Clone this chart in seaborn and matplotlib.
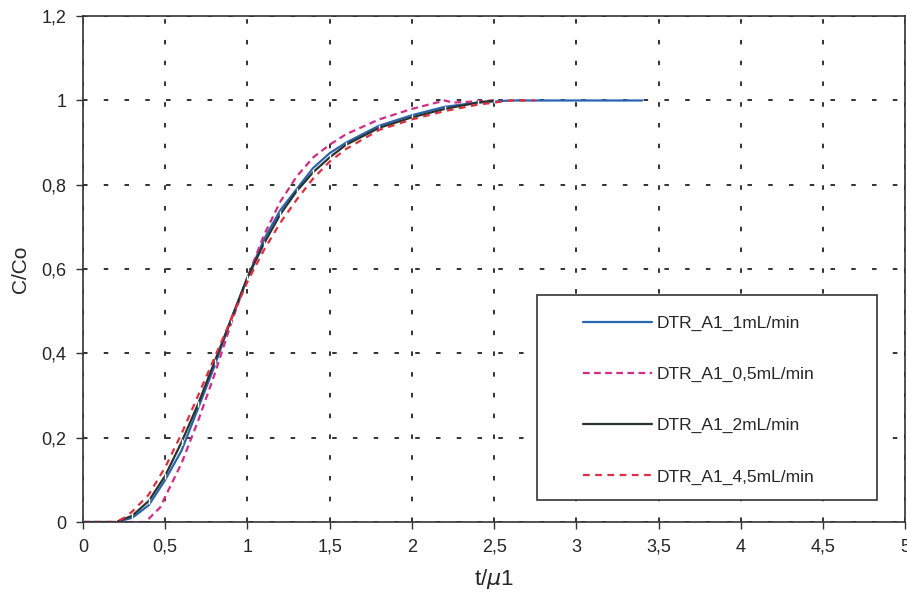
import numpy as np
import pandas as pd
import seaborn as sns
import matplotlib
matplotlib.use('Agg')
from matplotlib import pyplot as plt
from matplotlib.patches import Rectangle
from matplotlib.ticker import FuncFormatter, MultipleLocator

# valeurs (t/mu1, C/Co)
t_1ml = [0, 0.2, 0.3, 0.4, 0.5, 0.6, 0.7, 0.8, 0.9, 1.0, 1.1, 1.2, 1.3, 1.4, 1.5,
         1.6, 1.8, 2.0, 2.2, 2.4, 2.6, 3.0, 3.4]
c_1ml = [0, 0, 0.01, 0.04, 0.1, 0.17, 0.27, 0.37, 0.48, 0.58, 0.67, 0.74, 0.79, 0.84, 0.875,
         0.90, 0.94, 0.965, 0.985, 0.995, 1.0, 1.0, 1.0]

t_05ml = [0, 0.35, 0.38, 0.47, 0.5, 0.6, 0.7, 0.8, 0.9, 1.0, 1.1, 1.2, 1.3, 1.4, 1.5,
          1.6, 1.8, 2.0, 2.1, 2.2, 2.25, 2.5]
c_05ml = [0, 0, 0.0, 0.035, 0.06, 0.14, 0.24, 0.35, 0.47, 0.58, 0.68, 0.76, 0.82, 0.865, 0.895,
          0.92, 0.955, 0.98, 0.99, 1.0, 0.995, 1.0]

t_2ml = [0, 0.2, 0.3, 0.4, 0.5, 0.6, 0.7, 0.8, 0.9, 1.0, 1.1, 1.2, 1.3, 1.4, 1.5,
         1.6, 1.8, 2.0, 2.2, 2.4, 2.5]
c_2ml = [0, 0.0, 0.015, 0.05, 0.11, 0.19, 0.28, 0.38, 0.48, 0.58, 0.66, 0.73, 0.785, 0.83, 0.865,
         0.895, 0.935, 0.96, 0.98, 0.995, 1.0]

t_45ml = [0, 0.2, 0.25, 0.3, 0.4, 0.5, 0.6, 0.7, 0.8, 0.9, 1.0, 1.1, 1.2, 1.3, 1.4,
          1.5, 1.6, 1.8, 2.0, 2.2, 2.4, 2.6, 2.75]
c_45ml = [0, 0.0, 0.01, 0.025, 0.065, 0.13, 0.21, 0.3, 0.39, 0.48, 0.57, 0.645, 0.71, 0.765, 0.815,
          0.855, 0.885, 0.93, 0.955, 0.975, 0.99, 1.0, 1.0]

labels = ['DTR_A1_1mL/min', 'DTR_A1_0,5mL/min', 'DTR_A1_2mL/min', 'DTR_A1_4,5mL/min']

sns.set_style('white')
plt.rcParams['font.family'] = ['Liberation Sans', 'DejaVu Sans']

fig = plt.figure(figsize=(9.07, 5.99), dpi=100)
ax = fig.add_axes([0.0915, 0.1285, 0.9065, 0.8445])

series = [
    (t_1ml, c_1ml, '#2a63b0', '-', None),
    (t_05ml, c_05ml, '#d02c86', (0, (3, 2)), None),
    (t_2ml, c_2ml, '#27352e', '-', '|'),
    (t_45ml, c_45ml, '#dc2e3e', (0, (3, 2.5)), None),
]
for (x, y, col, ls, mk), lab in zip(series, labels):
    sns.lineplot(x=x, y=y, ax=ax, color=col, linestyle=ls, linewidth=1.6,
                 marker=mk, markersize=4, markeredgewidth=1, label=lab,
                 sort=False, estimator=None)

ax.set_xlim(0, 5)
ax.set_ylim(0, 1.2)
ax.xaxis.set_major_locator(MultipleLocator(0.5))
ax.yaxis.set_major_locator(MultipleLocator(0.2))
fmt = FuncFormatter(lambda v, p: ('%g' % round(v, 2)).replace('.', ','))
ax.xaxis.set_major_formatter(fmt)
ax.yaxis.set_major_formatter(fmt)

ax.grid(True, color='#222222', linestyle=(0, (2.5, 9)), linewidth=1.3)
for s in ax.spines.values():
    s.set_color('#333333')
    s.set_linewidth(1.2)
ax.tick_params(axis='both', direction='out', length=5, width=1, color='#333333',
               labelsize=13, bottom=True, left=True, pad=7)

ax.set_xlabel('t/$\\mu$1', fontsize=16, labelpad=8)
ax.set_ylabel('C/Co', fontsize=15, labelpad=8)

# cadre de la légende
ax.add_patch(Rectangle((0.552, 0.0435), 0.414, 0.4055, transform=ax.transAxes,
                       facecolor='white', edgecolor='#333333', linewidth=1.2, zorder=4))
leg = ax.legend(loc='upper left', bbox_to_anchor=(0.608, 0.408),
                fontsize=12.5, handlelength=4.0, labelspacing=2.07, borderpad=0,
                borderaxespad=0, handletextpad=0.25, frameon=False)
leg.set_zorder(5)
for lh in leg.get_lines():
    lh.set_marker('None')

fig.savefig('out.png', dpi=100)
